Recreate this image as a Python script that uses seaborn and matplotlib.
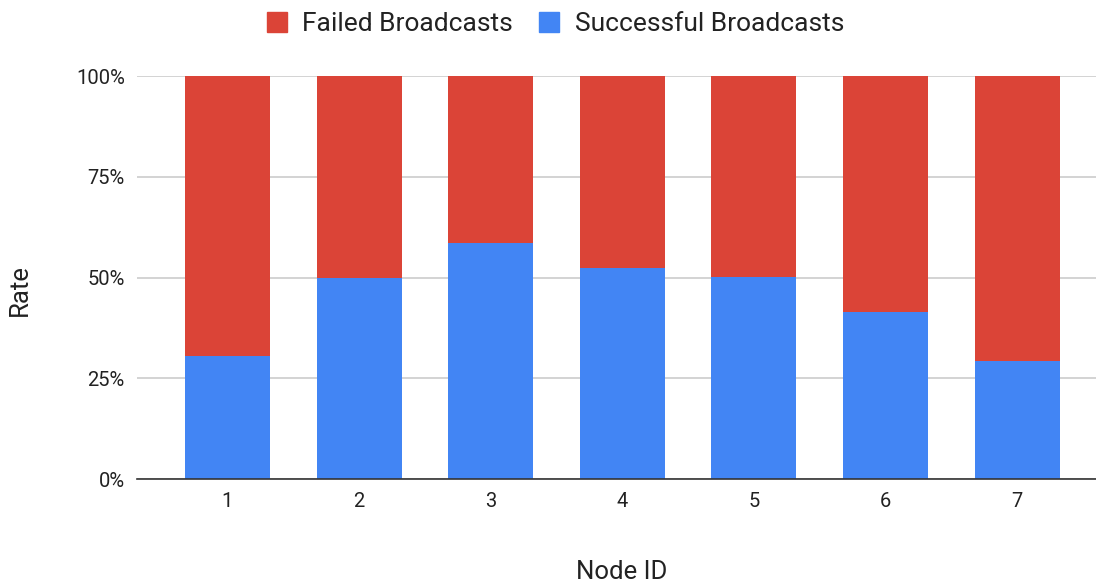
import matplotlib
matplotlib.use("Agg")
import matplotlib.pyplot as plt
from matplotlib.lines import Line2D
from matplotlib.ticker import FuncFormatter
import pandas as pd
import seaborn as sns

# Broadcast outcome per node (share of attempts, %)
node_ids = ["1", "2", "3", "4", "5", "6", "7"]
successful = [30.6, 49.9, 58.6, 52.4, 50.2, 41.5, 29.3]
failed = [round(100 - s, 1) for s in successful]
y_ticks = [0, 25, 50, 75, 100]

RED = "#DB4437"
BLUE = "#4285F4"
TEXT = "#222222"

sns.set_theme(style="white")
plt.rcParams["font.family"] = ["Roboto", "DejaVu Sans"]

df = pd.DataFrame({"node": node_ids, "successful": successful, "failed": failed})
df["total"] = df["successful"] + df["failed"]

W, H = 1096, 586
left_px, bottom_px, top_px = 137.3, 479.3, 76.0
fig = plt.figure(figsize=(W / 100, H / 100), dpi=100)
ax = fig.add_axes([left_px / W, (H - bottom_px) / H, (W - left_px) / W,
                   (bottom_px - top_px) / H])

bw = 0.646
sns.barplot(data=df, x="node", y="total", color=RED, saturation=1, width=bw,
            ax=ax, zorder=2, linewidth=0)
sns.barplot(data=df, x="node", y="successful", color=BLUE, saturation=1, width=bw,
            ax=ax, zorder=3, linewidth=0)

ax.set_xlim(-0.685, 6.6)
ax.set_ylim(0, 100)
ax.set_yticks(y_ticks)
ax.yaxis.set_major_formatter(FuncFormatter(lambda v, _: f"{v:.0f}%"))
ax.yaxis.grid(True, color="#CCCCCC", linewidth=1.2, zorder=0)
ax.set_axisbelow(True)
for s in ["top", "right", "left"]:
    ax.spines[s].set_visible(False)
ax.spines["bottom"].set_color("#333333")
ax.spines["bottom"].set_linewidth(1.2)
ax.spines["bottom"].set_zorder(4)
ax.tick_params(axis="both", length=0, labelsize=14.5, colors=TEXT)
ax.tick_params(axis="y", pad=9)
ax.tick_params(axis="x", pad=9)

aw = W - left_px
ah = bottom_px - top_px
ax.set_xlabel("Node ID", fontsize=18.5, color=TEXT)
ax.xaxis.set_label_coords((622 - left_px) / aw, (bottom_px - 560) / ah)
ax.set_ylabel("Rate", fontsize=18.5, color=TEXT)
ax.yaxis.set_label_coords((32 - left_px) / aw, (bottom_px - 290) / ah)

handles = [
    Line2D([], [], marker="s", linestyle="none", markersize=14.5, markerfacecolor=RED,
           markeredgecolor=RED, label="Failed Broadcasts"),
    Line2D([], [], marker="s", linestyle="none", markersize=14.5, markerfacecolor=BLUE,
           markeredgecolor=BLUE, label="Successful Broadcasts"),
]
fig.legend(handles=handles, loc="center", bbox_to_anchor=(555 / W, 1 - 24 / H), ncol=2,
           frameon=False, fontsize=19, handlelength=0.8, handletextpad=0.55,
           columnspacing=1.0, labelcolor=TEXT, borderaxespad=0, borderpad=0)

fig.savefig("out.png", dpi=100)
